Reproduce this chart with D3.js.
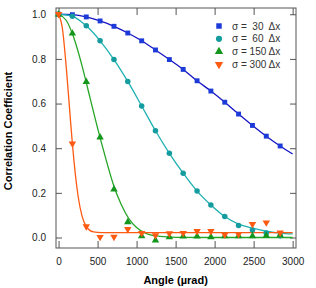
<!DOCTYPE html>
<html>
<head>
<meta charset="utf-8">
<script src="https://cdn.jsdelivr.net/npm/d3@7"></script>
<style>
  body { margin: 0; background: #fff; }
  text { font-family: "Liberation Sans", Arial, sans-serif; }
</style>
</head>
<body>
<div class="canva"></div>
<script>
// measured angles (µrad), same for every sigma
const angles = [0, 177, 355, 532, 710, 887, 1065, 1242, 1420, 1597, 1775, 1952, 2130, 2307, 2485, 2662, 2840];

// correlation coefficient per sigma
const sigma30  = [1.0, 0.998, 0.988, 0.970, 0.946, 0.916, 0.881, 0.840, 0.797, 0.753, 0.702, 0.656, 0.606, 0.553, 0.502, 0.454, 0.410];
const sigma60  = [1.0, 0.991, 0.948, 0.881, 0.797, 0.699, 0.589, 0.478, 0.377, 0.288, 0.208, 0.146, 0.094, 0.054, 0.034, 0.020, 0.008];
const sigma150 = [1.0, 0.914, 0.697, 0.449, 0.216, 0.069, 0.006, -0.013, 0.002, 0.005, 0.005, 0.002, 0.006, 0.006, 0.006, 0.008, 0.010];
const sigma300 = [1.0, 0.420, 0.050, 0.002, 0.003, 0.037, 0.020, 0.010, 0.018, 0.020, 0.028, 0.028, 0.013, 0.015, 0.060, 0.067, 0.022];

// fitted curves
const fit30X  = [0, 177, 355, 532, 710, 887, 1065, 1242, 1420, 1597, 1775, 1952, 2130, 2307, 2485, 2662, 2840, 3000];
const fit30Y  = [1.0, 0.998, 0.988, 0.970, 0.946, 0.916, 0.881, 0.840, 0.797, 0.753, 0.702, 0.656, 0.606, 0.553, 0.502, 0.454, 0.410, 0.374];
const fit60X  = [0, 177, 355, 532, 710, 887, 1065, 1242, 1420, 1597, 1775, 1952, 2130, 2307, 2485, 2662, 2840, 3000];
const fit60Y  = [1.0, 0.991, 0.948, 0.881, 0.797, 0.699, 0.589, 0.478, 0.377, 0.288, 0.208, 0.146, 0.094, 0.060, 0.042, 0.028, 0.020, 0.016];
const fit150X = [0, 100, 200, 300, 400, 500, 600, 700, 800, 900, 1000, 1100, 1200, 1300, 1500, 2000, 3000];
const fit150Y = [1.0, 0.972, 0.89, 0.77, 0.63, 0.49, 0.36, 0.24, 0.15, 0.085, 0.045, 0.022, 0.010, 0.005, 0.001, 0.0, 0.0];
const fit300X = [0, 50, 100, 150, 177, 250, 300, 355, 400, 450, 500, 600, 3000];
const fit300Y = [1.0, 0.934, 0.756, 0.536, 0.42, 0.186, 0.097, 0.049, 0.032, 0.025, 0.023, 0.022, 0.022];

const legendLabels = ['σ =  30  Δx', 'σ =  60  Δx', 'σ = 150 Δx', 'σ = 300 Δx'];
const xTicks = [0, 500, 1000, 1500, 2000, 2500, 3000];
const yTicks = [0, 0.2, 0.4, 0.6, 0.8, 1.0];

const series = [
  { ys: sigma30,  fx: fit30X,  fy: fit30Y,  symbol: d3.symbolSquare,   size: 24, rot: 0,   fill: '#1c3ad8', line: '#1414c4' },
  { ys: sigma60,  fx: fit60X,  fy: fit60Y,  symbol: d3.symbolCircle,   size: 24, rot: 0,   fill: '#149c9e', line: '#1fb0b2' },
  { ys: sigma150, fx: fit150X, fy: fit150Y, symbol: d3.symbolTriangle, size: 24, rot: 0,   fill: '#14961c', line: '#26a626' },
  { ys: sigma300, fx: fit300X, fy: fit300Y, symbol: d3.symbolTriangle, size: 24, rot: 180, fill: '#ff5a12', line: '#ff5a12' }
];

const svg = d3.select('.canva').append('svg')
  .attr('width', 316)
  .attr('height', 288);

const margin = { top: 8, right: 20, bottom: 40, left: 56 };
const graphWidth = 316 - margin.left - margin.right;
const graphHeight = 288 - margin.top - margin.bottom;

const graph = svg.append('g')
  .attr('transform', `translate(${margin.left}, ${margin.top})`);

const x = d3.scaleLinear().domain([-33, 3043]).range([0, graphWidth]);
const y = d3.scaleLinear().domain([-0.047, 1.028]).range([graphHeight, 0]);

// axes: all ticks point inward
const xAxis = d3.axisBottom(x).tickValues(xTicks).tickSizeInner(-7).tickSizeOuter(0).tickPadding(10).tickFormat(d3.format('d'));
const yAxis = d3.axisLeft(y).tickValues(yTicks).tickSizeInner(-6).tickSizeOuter(0).tickPadding(10).tickFormat(d3.format('.1f'));
const xTop = d3.axisTop(x).tickValues(xTicks).tickSizeInner(-7).tickSizeOuter(0).tickFormat('');
const yRight = d3.axisRight(y).tickValues(yTicks).tickSizeInner(-6).tickSizeOuter(0).tickFormat('');

const styleAxis = g => {
  g.select('.domain').remove();
  g.selectAll('line').attr('stroke', '#555');
  g.selectAll('text').attr('fill', '#222').style('font-size', '10px');
};

graph.append('g').attr('transform', `translate(0, ${graphHeight})`).call(xAxis).call(styleAxis);
graph.append('g').call(yAxis).call(styleAxis);
graph.append('g').call(xTop).call(styleAxis);
graph.append('g').attr('transform', `translate(${graphWidth}, 0)`).call(yRight).call(styleAxis);

graph.append('rect')
  .attr('width', graphWidth)
  .attr('height', graphHeight)
  .attr('fill', 'none')
  .attr('stroke', '#555')
  .attr('stroke-width', 1);

const line = d3.line()
  .x(d => x(d[0]))
  .y(d => y(d[1]))
  .curve(d3.curveMonotoneX);

// fits first, markers on top
series.forEach(s => {
  graph.append('path')
    .datum(s.fx.map((v, i) => [v, s.fy[i]]))
    .attr('d', line)
    .attr('fill', 'none')
    .attr('stroke', s.line)
    .attr('stroke-width', 1.3);
});

series.forEach(s => {
  graph.append('g').selectAll('path')
    .data(angles.map((a, i) => [a, s.ys[i]]))
    .enter().append('path')
    .attr('d', d3.symbol().type(s.symbol).size(s.size))
    .attr('transform', d => `translate(${x(d[0])}, ${y(d[1])}) rotate(${s.rot})`)
    .attr('fill', s.fill);
});

// legend
const legend = svg.append('g').attr('transform', 'translate(219, 26)');
series.forEach((s, i) => {
  const row = legend.append('g').attr('transform', `translate(0, ${i * 12.8})`);
  row.append('path')
    .attr('d', d3.symbol().type(s.symbol).size(30))
    .attr('transform', `rotate(${s.rot})`)
    .attr('fill', s.fill);
  row.append('text')
    .attr('x', 13)
    .attr('y', 3.5)
    .attr('fill', '#333')
    .style('font-size', '10px')
    .style('white-space', 'pre')
    .attr('xml:space', 'preserve')
    .text(legendLabels[i]);
});

// axis titles
svg.append('text')
  .attr('x', margin.left + x(1500))
  .attr('y', 284)
  .attr('text-anchor', 'middle')
  .style('font-size', '11px')
  .style('font-weight', 'bold')
  .text('Angle (µrad)');

svg.append('text')
  .attr('transform', 'translate(12, 131) rotate(-90)')
  .attr('text-anchor', 'middle')
  .style('font-size', '11px')
  .style('font-weight', 'bold')
  .text('Correlation Coefficient');
</script>
</body>
</html>
